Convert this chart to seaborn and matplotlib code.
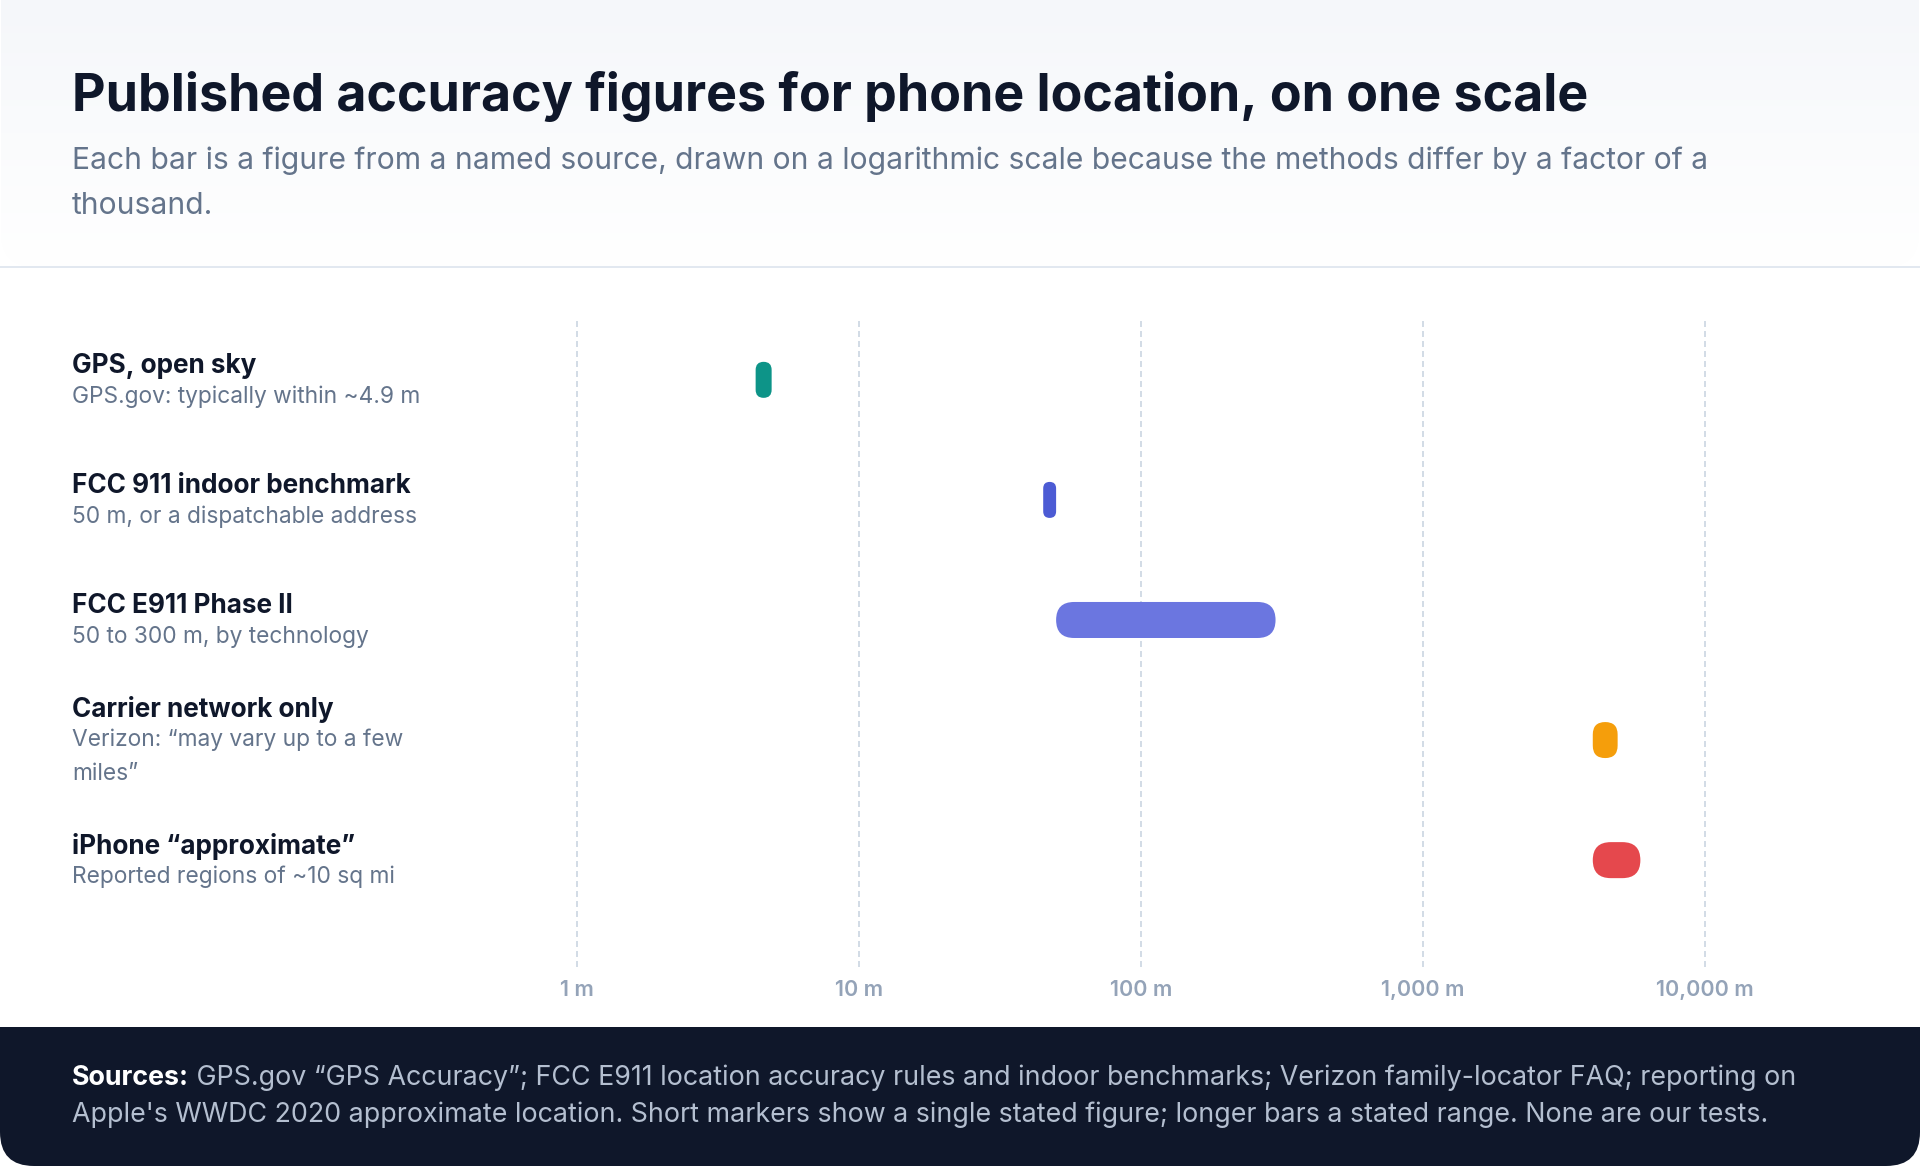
import numpy as np
import pandas as pd
import matplotlib
matplotlib.use("Agg")
import matplotlib.pyplot as plt
import seaborn as sns
from matplotlib.patches import FancyBboxPatch, Rectangle
from matplotlib.transforms import IdentityTransform, blended_transform_factory
from matplotlib.colors import LinearSegmentedColormap
from matplotlib.ticker import NullLocator

# ---------------- data ----------------
categories = ["GPS, open sky", "FCC 911 indoor benchmark", "FCC E911 Phase II",
              "Carrier network only", "iPhone \u201capproximate\u201d"]
notes = ["GPS.gov: typically within ~4.9 m",
         "50 m, or a dispatchable address",
         "50 to 300 m, by technology",
         "Verizon: \u201cmay vary up to a few\nmiles\u201d",
         "Reported regions of ~10 sq mi"]
low_m = [4.3, 45, 50, 4000, 4000]
high_m = [4.9, 50, 300, 4900, 5900]
colors = ["#0d9488", "#4c5bd4", "#6b76e0", "#f59e0b", "#e5484d"]
tick_values = [1, 10, 100, 1000, 10000]
tick_labels = ["1 m", "10 m", "100 m", "1,000 m", "10,000 m"]

title = "Published accuracy figures for phone location, on one scale"
subtitle_lines = ["Each bar is a figure from a named source, drawn on a logarithmic scale because the methods differ by a factor of a",
                  "thousand."]
source_bold = "Sources:"
source_lines = [" GPS.gov \u201cGPS Accuracy\u201d; FCC E911 location accuracy rules and indoor benchmarks; Verizon family-locator FAQ; reporting on",
                "Apple's WWDC 2020 approximate location. Short markers show a single stated figure; longer bars a stated range. None are our tests."]

# ---------------- style ----------------
sns.set_style("white")
plt.rcParams["font.family"] = ["Inter", "DejaVu Sans"]

W, H = 1920, 1166
fig = plt.figure(figsize=(W / 100, H / 100), dpi=100)
fig.patch.set_facecolor("white")

def py(y_from_top):
    return (H - y_from_top) / H

# header background (gradient, rounded top corners)
hax = fig.add_axes([0, py(267), 1, 267 / H])
cmap = LinearSegmentedColormap.from_list("hdr", ["#ffffff", "#f5f7fa"])
grad = np.linspace(0, 1, 256).reshape(-1, 1)
im = hax.imshow(grad, aspect="auto", cmap=cmap, extent=[0, 1, 0, 1], origin="lower")
hax.set_axis_off()
clip = FancyBboxPatch((1, H - 267), W - 2, 267 + 60, boxstyle="round,pad=0,rounding_size=34",
                      transform=IdentityTransform(), facecolor="none", edgecolor="none")
fig.patches.append(clip)
im.set_clip_path(clip)
# divider
fig.add_artist(Rectangle((0, H - 268), W, 2, transform=IdentityTransform(),
                         facecolor="#e2e8f0", edgecolor="none"))

# footer
fig.add_artist(FancyBboxPatch((0, 0), W, 139, boxstyle="round,pad=0,rounding_size=34",
                              transform=IdentityTransform(), facecolor="#0f172a", edgecolor="none"))
fig.add_artist(Rectangle((0, 60), W, 79, transform=IdentityTransform(),
                         facecolor="#0f172a", edgecolor="none"))

# title & subtitle
fig.text(72 / W, py(111.5), title, fontsize=37.4, fontweight="bold", color="#0f172a",
         ha="left", va="baseline")
for k, line in enumerate(subtitle_lines):
    fig.text(72 / W, py(161 + 44.5 * k), line, fontsize=21.6, color="#64748b",
             ha="left", va="center")

# ---------------- plot ----------------
decade = 282.0
x1m = 577.0
pad_dec = 0.05
ax_left = x1m - pad_dec * decade
ax_right = x1m + (4 + pad_dec) * decade
ax_top, ax_bottom = 321, 967
ax = fig.add_axes([ax_left / W, py(ax_bottom), (ax_right - ax_left) / W, (ax_bottom - ax_top) / H])

df = pd.DataFrame({"category": categories, "high": high_m, "low": low_m})
sns.barplot(data=df, x="high", y="category", hue="category", palette=colors,
            legend=False, ax=ax, width=0.3, orient="h", saturation=1)
ax.set_xscale("log")
ax.set_xlim(10 ** -pad_dec, 10 ** (4 + pad_dec))
ax.set_ylim(4.89, -0.49)

ax.set_xticks(tick_values)
ax.set_xticklabels(tick_labels)
ax.xaxis.set_minor_locator(NullLocator())
ax.tick_params(axis="x", length=0, pad=9, labelsize=15.5, labelcolor="#94a3b8")
for lab in ax.get_xticklabels():
    lab.set_fontweight("semibold")
ax.set_yticks([])
ax.set_xlabel("")
ax.set_ylabel("")
for s in ax.spines.values():
    s.set_visible(False)
ax.xaxis.grid(True, color="#cbd5e1", linewidth=1.2, linestyle=(0, (3.6, 2.4)))
ax.yaxis.grid(False)
ax.set_facecolor("none")

# turn seaborn's bars into rounded range pills (lo..hi) in display space
fig.canvas.draw()
for patch in list(ax.patches):
    yc = patch.get_y() + patch.get_height() / 2
    i = int(round(yc))
    h = patch.get_height()
    patch.set_x(low_m[i])
    patch.set_width(high_m[i] - low_m[i])
    (x0, y0) = ax.transData.transform((low_m[i], yc - h / 2))
    (x1, y1) = ax.transData.transform((high_m[i], yc + h / 2))
    xa, xb = min(x0, x1), max(x0, x1)
    ya, yb = min(y0, y1), max(y0, y1)
    r = min((xb - xa) / 2, (yb - ya) / 2)
    pill = FancyBboxPatch((xa, ya), xb - xa, yb - ya,
                          boxstyle=f"round,pad=0,rounding_size={r}",
                          transform=IdentityTransform(), facecolor=patch.get_facecolor(),
                          edgecolor="none")
    fig.add_artist(pill)
    patch.set_visible(False)

# row labels
px_per_row = 120.0
tr = blended_transform_factory(fig.transFigure, ax.transData)
for i, (cat, note) in enumerate(zip(categories, notes)):
    note_lines = note.split("\n")
    n = len(note_lines)
    center = (32 + 34 * (n - 1)) / 2
    t_off = -center + 2
    ax.text(72 / W, i + t_off / px_per_row, cat, transform=tr, fontsize=18.8,
            fontweight="bold", color="#0f172a", ha="left", va="center")
    for k, nl in enumerate(note_lines):
        off = t_off + 31 + 34 * k
        ax.text(72 / W, i + off / px_per_row, nl, transform=tr, fontsize=16.4,
                color="#64748b", ha="left", va="center")

# footer text
fig.canvas.draw()
renderer = fig.canvas.get_renderer()
tb = fig.text(72 / W, py(1078), source_bold, fontsize=19.3, fontweight="bold",
              color="#ffffff", ha="left", va="center")
bb = tb.get_window_extent(renderer)
fig.text(bb.x1 / W, py(1078), source_lines[0], fontsize=19.3, color="#b4bfd0",
         ha="left", va="center")
fig.text(72 / W, py(1115), source_lines[1], fontsize=19.3, color="#b4bfd0",
         ha="left", va="center")

fig.savefig("out.png", dpi=100, facecolor=fig.get_facecolor())
